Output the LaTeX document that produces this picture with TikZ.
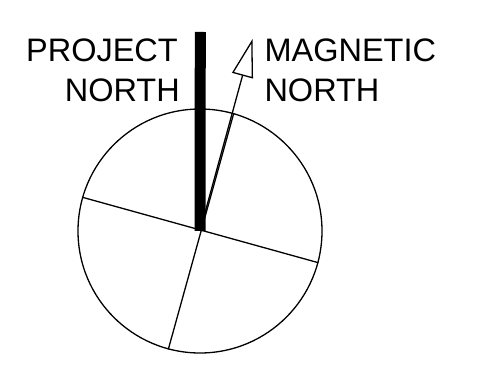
\documentclass[tikz,border=0pt]{standalone}
\usepackage{fontspec}
\setmainfont{Liberation Sans}
\usepackage{tikz}
\usetikzlibrary{arrows.meta,positioning,calc}
\tikzset{
  >={Triangle[open, length=38pt, width=21.5pt]},
  dial/.style={draw, circle, line width=1.3pt, fill=white, minimum size=244pt, inner sep=0pt},
  axis/.style={line width=1.3pt},
  bar/.style={line width=11pt},
  needle/.style={->, line width=1.3pt},
  tag/.style={inner sep=0pt, font=\fontsize{32.5}{40}\selectfont},
}
\begin{document}
\begin{tikzpicture}[x=1pt, y=1pt]
  \useasboundingbox (0,0) rectangle (486,369);
  \coordinate (c) at (200,138);
  \node[dial] (dial) at (c) {};
  % quadrant lines
  \draw[axis] (dial.164.7) -- (dial.-15.3);
  \draw[axis] (dial.74.7) -- (dial.-105.3);
  % north markers
  \coordinate (pn) at (200.3,337);
  \coordinate (mn) at ($(c)+(74.7:199)$);
  \draw[bar] (c) -- (pn);
  \draw[needle] (c) -- (mn);
  \node[tag, align=right, anchor=base east] (proj) at (180,267.3) {PROJECT\hspace*{2pt}\\NORTH};
  \node[tag, align=left, anchor=base west] (mag) at (264.3,267.3) {MAGNETIC\\NORTH};
\end{tikzpicture}
\end{document}
